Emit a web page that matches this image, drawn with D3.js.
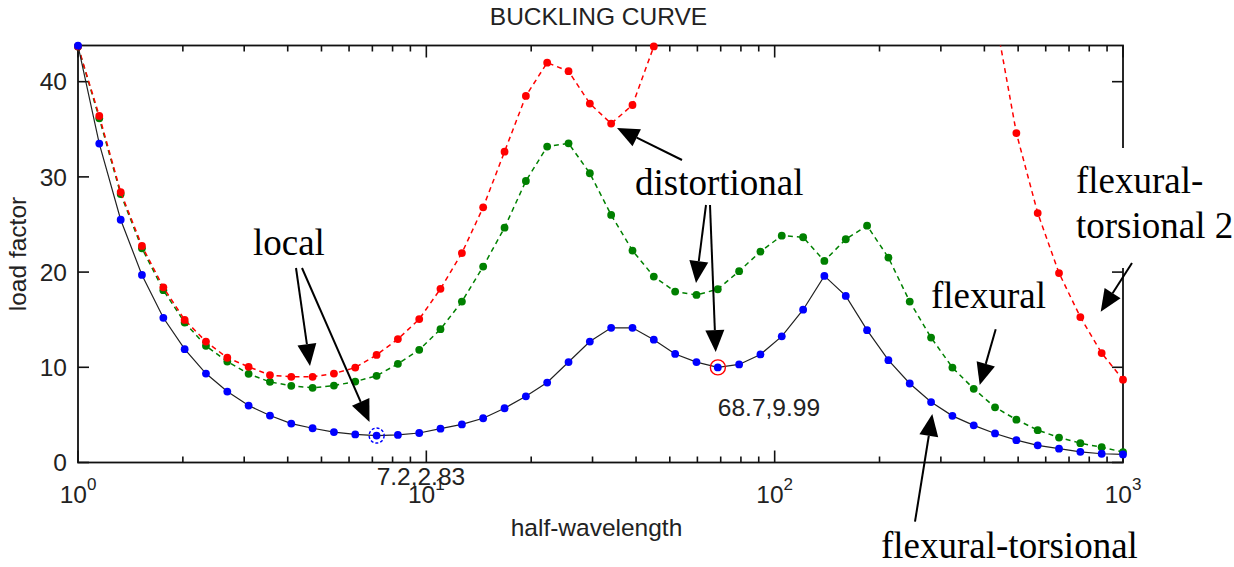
<!DOCTYPE html>
<html>
<head>
<meta charset="utf-8">
<script src="https://cdn.jsdelivr.net/npm/d3@7"></script>
<style>
  body { margin: 0; background: #fff; }
  svg text { font-family: "Liberation Sans", Arial, sans-serif; }
  .note { font-family: "Liberation Serif", "Times New Roman", serif; }
</style>
</head>
<body>
<div id="chart"></div>
<script>
// half-wavelengths (50 log-spaced lengths, 1 .. 1000)
var lengths = [1, 1.151, 1.326, 1.526, 1.758, 2.024, 2.330, 2.683, 3.089, 3.557,
  4.095, 4.715, 5.429, 6.251, 7.197, 8.286, 9.541, 10.98, 12.65, 14.56,
  16.77, 19.31, 22.23, 25.60, 29.47, 33.93, 39.07, 44.98, 51.80, 59.64,
  68.66, 79.06, 91.03, 104.8, 120.7, 138.9, 160.0, 184.2, 212.1, 244.2,
  281.2, 323.8, 372.8, 429.2, 494.2, 569.0, 655.1, 754.3, 868.5, 1000];

// load factors, mode 1 (blue dots, black line)
var mode1 = [43.78, 33.5, 25.5, 19.7, 15.2, 11.9, 9.34, 7.45, 5.98, 4.93,
  4.09, 3.6, 3.2, 2.95, 2.83, 2.9, 3.1, 3.55, 4.0, 4.65,
  5.7, 6.95, 8.4, 10.55, 12.7, 14.15, 14.15, 12.9, 11.4, 10.55,
  9.99, 10.3, 11.35, 13.25, 16.05, 19.6, 17.5, 13.9, 10.75, 8.3,
  6.35, 4.9, 3.9, 3.05, 2.35, 1.8, 1.45, 1.12, 0.92, 0.85];

// mode 2 (green dashed)
var mode2 = [43.7, 36.15, 28.2, 22.5, 18.1, 14.7, 12.25, 10.6, 9.31, 8.47,
  8.05, 7.84, 8.08, 8.5, 9.1, 10.36, 11.83, 14.0, 16.9, 20.58,
  24.67, 29.57, 33.18, 33.53, 30.38, 26.0, 22.26, 19.53, 17.95, 17.6,
  18.2, 20.1, 22.15, 23.83, 23.66, 21.17, 23.45, 24.88, 21.52, 16.9,
  13.12, 9.97, 7.74, 5.8, 4.5, 3.4, 2.62, 2.03, 1.6, 1.1];

// mode 3 (red dashed), null where it runs off the top of the plot
var mode3 = [43.7, 36.4, 28.4, 22.75, 18.4, 14.98, 12.7, 11.0, 10.05, 9.18,
  9.0, 9.0, 9.34, 9.97, 11.3, 12.96, 15.06, 18.24, 22.0, 26.8,
  32.65, 38.5, 42.0, 41.1, 37.7, 35.6, 37.55, 43.7, null, null,
  null, null, null, null, null, null, null, null, null, null,
  null, null, null, 47, 34.6, 26.2, 19.9, 15.27, 11.49, 8.7];

var yTicks = [0, 10, 20, 30, 40];
var xDecades = [1, 10, 100, 1000];
var decadeExp = ["0", "1", "2", "3"];

// marked minima of mode 1
var minLens = [7.2, 68.7];
var minVals = [2.83, 9.99];
var minLabels = ["7.2,2.83", "68.7,9.99"];
var minColors = ["#0000ff", "#ff0000"];

var width = 1234, height = 567;
var fs = 24.5;

var x = d3.scaleLog().domain([1, 1000]).range([78, 1123]);
var y = d3.scaleLinear().domain([0, 43.8]).range([462.5, 45.5]);

var svg = d3.select("#chart").append("svg")
  .attr("width", width)
  .attr("height", height);

var x0 = x.range()[0], x1 = x.range()[1], yb = y.range()[0], yt = y.range()[1];

svg.append("clipPath").attr("id", "plotclip")
  .append("rect")
  .attr("x", x0).attr("y", yt)
  .attr("width", x1 - x0).attr("height", yb - yt);

// ticks
var isDecade = function(d) {
  var l = Math.log10(d);
  return Math.abs(l - Math.round(l)) < 1e-9;
};
var xt = x.ticks();
var tickG = svg.append("g").attr("stroke", "#111").attr("stroke-width", 1.6);
xt.forEach(function(d) {
  var len = isDecade(d) ? 12 : 6;
  tickG.append("line").attr("x1", x(d)).attr("x2", x(d)).attr("y1", yb).attr("y2", yb - len);
  tickG.append("line").attr("x1", x(d)).attr("x2", x(d)).attr("y1", yt).attr("y2", yt + len);
});
yTicks.forEach(function(d) {
  tickG.append("line").attr("x1", x0).attr("x2", x0 + 11).attr("y1", y(d)).attr("y2", y(d));
  tickG.append("line").attr("x1", x1).attr("x2", x1 - 11).attr("y1", y(d)).attr("y2", y(d));
});

// frame
svg.append("rect")
  .attr("x", x0).attr("y", yt)
  .attr("width", x1 - x0).attr("height", yb - yt)
  .attr("fill", "none").attr("stroke", "#111").attr("stroke-width", 1.8);

// tick labels
svg.selectAll(".ylab")
  .data(yTicks)
  .enter().append("text")
  .attr("x", x0 - 11)
  .attr("y", function(d) { return y(d); })
  .attr("dy", "0.36em")
  .attr("text-anchor", "end")
  .attr("font-size", fs)
  .attr("fill", "#222")
  .text(function(d) { return d; });

var xl = svg.selectAll(".xlab")
  .data(xDecades)
  .enter().append("text")
  .attr("x", function(d) { return x(d); })
  .attr("y", 503)
  .attr("text-anchor", "middle")
  .attr("font-size", fs)
  .attr("fill", "#222");
xl.append("tspan").text("10");
xl.append("tspan").attr("font-size", 17).attr("dy", -13).text(function(d, i) { return decadeExp[i]; });

// titles
svg.append("text")
  .attr("x", (x0 + x1) / 2 - 2).attr("y", 25)
  .attr("text-anchor", "middle").attr("font-size", fs).attr("fill", "#222")
  .text("BUCKLING CURVE");
svg.append("text")
  .attr("x", (x0 + x1) / 2 - 4).attr("y", 536)
  .attr("text-anchor", "middle").attr("font-size", fs).attr("fill", "#222")
  .text("half-wavelength");
svg.append("text")
  .attr("transform", "translate(26," + (yb + yt) / 2 + ") rotate(-90)")
  .attr("text-anchor", "middle").attr("font-size", fs).attr("fill", "#222")
  .text("load factor");

// curves
var series = [
  { vals: mode2, line: "#008000", dot: "#008000", dash: "5,4", w: 1.5 },
  { vals: mode3, line: "#ff0000", dot: "#ff0000", dash: "5,4", w: 1.5 },
  { vals: mode1, line: "#222", dot: "#0000ff", dash: null, w: 1.2 }
];

var line = d3.line()
  .defined(function(d) { return d[1] != null; })
  .x(function(d) { return x(d[0]); })
  .y(function(d) { return y(d[1]); });

series.forEach(function(s) {
  var pts = lengths.map(function(l, i) { return [l, s.vals[i]]; });
  svg.append("path")
    .datum(pts)
    .attr("clip-path", "url(#plotclip)")
    .attr("d", line)
    .attr("fill", "none")
    .attr("stroke", s.line)
    .attr("stroke-width", s.w)
    .attr("stroke-dasharray", s.dash);
  svg.append("g").selectAll("circle")
    .data(pts.filter(function(p) { return p[1] != null && p[1] <= y.domain()[1]; }))
    .enter().append("circle")
    .attr("cx", function(d) { return x(d[0]); })
    .attr("cy", function(d) { return y(d[1]); })
    .attr("r", 3.9)
    .attr("fill", s.dot);
});

// minimum markers + labels
minLens.forEach(function(l, i) {
  svg.append("circle")
    .attr("cx", x(l)).attr("cy", y(minVals[i]))
    .attr("r", 7.5)
    .attr("fill", "none")
    .attr("stroke", minColors[i])
    .attr("stroke-width", 1.4)
    .attr("stroke-dasharray", i === 0 ? "3,2" : null);
  svg.append("text")
    .attr("x", x(l)).attr("y", y(minVals[i]) + 49)
    .attr("font-size", fs).attr("fill", "#222")
    .text(minLabels[i]);
});

// annotations (drawn on top, pixel layout)
var notes = [
  { lines: ["local"], x: 253, y: 255 },
  { lines: ["distortional"], x: 635, y: 195 },
  { lines: ["flexural-", "torsional 2"], x: 1076, y: 193, box: [1068, 148, 166, 120] },
  { lines: ["flexural"], x: 931, y: 308 },
  { lines: ["flexural-torsional"], x: 881, y: 558 }
];
var arrows = [
  [296, 268, 310, 366],
  [302, 268, 369.5, 422],
  [682, 160, 617, 128],
  [706, 205, 696, 283],
  [710, 205, 715.7, 352],
  [1132, 263, 1100.7, 311.7],
  [995.7, 329.3, 979.7, 385],
  [915, 521.7, 932.3, 414]
];

notes.forEach(function(n) {
  if (n.box) {
    svg.append("rect")
      .attr("x", n.box[0]).attr("y", n.box[1])
      .attr("width", n.box[2]).attr("height", n.box[3])
      .attr("fill", "#fff");
  }
  var t = svg.append("text")
    .attr("class", "note")
    .attr("x", n.x).attr("y", n.y)
    .attr("font-size", 37)
    .attr("fill", "#000");
  n.lines.forEach(function(s, j) {
    t.append("tspan").attr("x", n.x).attr("dy", j === 0 ? 0 : 45).text(s);
  });
});

arrows.forEach(function(a) {
  var dx = a[2] - a[0], dy = a[3] - a[1];
  var len = Math.sqrt(dx * dx + dy * dy);
  var ux = dx / len, uy = dy / len;
  var hl = 22, hw = 9.5;
  var bx = a[2] - ux * hl, by = a[3] - uy * hl;
  svg.append("line")
    .attr("x1", a[0]).attr("y1", a[1])
    .attr("x2", bx).attr("y2", by)
    .attr("stroke", "#000").attr("stroke-width", 2);
  svg.append("path")
    .attr("d", "M" + a[2] + "," + a[3] +
      "L" + (bx - uy * hw) + "," + (by + ux * hw) +
      "L" + (bx + uy * hw) + "," + (by - ux * hw) + "Z")
    .attr("fill", "#000");
});
</script>
</body>
</html>
